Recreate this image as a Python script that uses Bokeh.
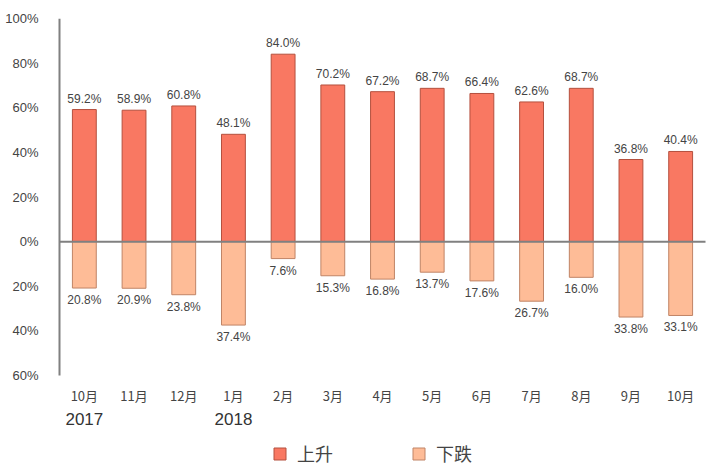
from bokeh.plotting import figure
from bokeh.models import ColumnDataSource, Legend, LegendItem, FixedTicker
from bokeh.core.properties import value
from bokeh.embed import file_html
from bokeh.resources import INLINE

months = ["10月", "11月", "12月", "1月", "2月", "3月", "4月", "5月", "6月", "7月", "8月", "9月", "10月"]
rise = [59.2, 58.9, 60.8, 48.1, 84.0, 70.2, 67.2, 68.7, 66.4, 62.6, 68.7, 36.8, 40.4]
fall = [20.8, 20.9, 23.8, 37.4, 7.6, 15.3, 16.8, 13.7, 17.6, 26.7, 16.0, 33.8, 33.1]
years = ["2017", "2018"]
year_pos = [0, 3]
y_ticks = [-60, -40, -20, 0, 20, 40, 60, 80, 100]

FONT = "Liberation Sans"
CJK = "Noto Sans CJK SC"

n = len(months)
xs = list(range(n))
src = ColumnDataSource(dict(
    x=xs,
    rise=rise,
    fall=[-v for v in fall],
    rise_lbl=[f"{v:.1f}%" for v in rise],
    fall_lbl=[f"{v:.1f}%" for v in fall],
    month=months,
))

# geometry: plot area spans x -0.5..12.5 over 646px, y -60..100 over 357px
PX_X = 646 / n
PX_Y = 357 / 160
LEFT_PAD = 5
FRAME_TOP = 18
FRAME_H = 466 - FRAME_TOP
y_lo = 100 - FRAME_H / PX_Y
x_lo = -0.5 - LEFT_PAD / PX_X
x_hi = n - 0.5 + 7 / PX_X

p = figure(frame_width=646 + LEFT_PAD + 7, frame_height=FRAME_H,
           x_range=(x_lo, x_hi), y_range=(y_lo, 100),
           output_backend="svg", toolbar_location=None,
           min_border_left=59 - LEFT_PAD, min_border_right=0, min_border_top=FRAME_TOP,
           min_border_bottom=0, x_axis_location=None)
p.outline_line_color = None
p.grid.grid_line_color = None
p.background_fill_color = "white"
p.border_fill_color = "white"

r1 = p.vbar(x="x", top="rise", bottom=0, width=0.48, source=src,
            fill_color="#F97862", line_color="#B4503E", line_width=1)
r2 = p.vbar(x="x", top=0, bottom="fall", width=0.48, source=src,
            fill_color="#FEBC97", line_color="#C08466", line_width=1)

p.text(x="x", y="rise", text="rise_lbl", source=src, text_align="center", text_baseline="bottom",
       y_offset=-4, text_font=value(FONT), text_font_size="12px", text_color="#444444")
p.text(x="x", y="fall", text="fall_lbl", source=src, text_align="center", text_baseline="top",
       y_offset=5, text_font=value(FONT), text_font_size="12px", text_color="#444444")

# zero line and y axis line
p.segment(x0=[-0.5], y0=[0], x1=[n - 0.5], y1=[0], line_color="#808080", line_width=2)
p.segment(x0=[-0.5], y0=[-60], x1=[-0.5], y1=[100], line_color="#808080", line_width=2)

# month labels and years (category axis drawn as text below the plot area)
p.text(x="x", y=-60, text="month", source=src, y_offset=20, text_align="center",
       text_baseline="middle", text_font=value(CJK), text_font_size="13px", text_color="#444444")
p.text(x=year_pos, y=[-60] * len(years), text=years, y_offset=43, text_align="center",
       text_baseline="middle", text_font=value(FONT), text_font_size="17px", text_color="#333333")

# y axis
p.yaxis.ticker = FixedTicker(ticks=y_ticks)
p.yaxis.major_label_overrides = {t: f"{abs(t)}%" for t in y_ticks}
p.yaxis.axis_line_color = None
p.yaxis.major_tick_line_color = None
p.yaxis.minor_tick_line_color = None
p.yaxis.major_label_standoff = 10
p.yaxis.major_label_text_font = FONT
p.yaxis.major_label_text_font_size = "13px"
p.yaxis.major_label_text_color = "#444444"

legend = Legend(items=[LegendItem(label="上升", renderers=[r1]), LegendItem(label="下跌", renderers=[r2])],
                orientation="horizontal", location=(272 - 59 + LEFT_PAD, 0),
                label_text_font=CJK, label_text_font_size="18px", label_text_color="#444444",
                glyph_width=15, glyph_height=15, label_height=14, spacing=78, padding=0, margin=0,
                label_standoff=10, border_line_color=None, background_fill_alpha=0)
p.add_layout(legend, "center")

open("out.html", "w").write(file_html(p, INLINE))
